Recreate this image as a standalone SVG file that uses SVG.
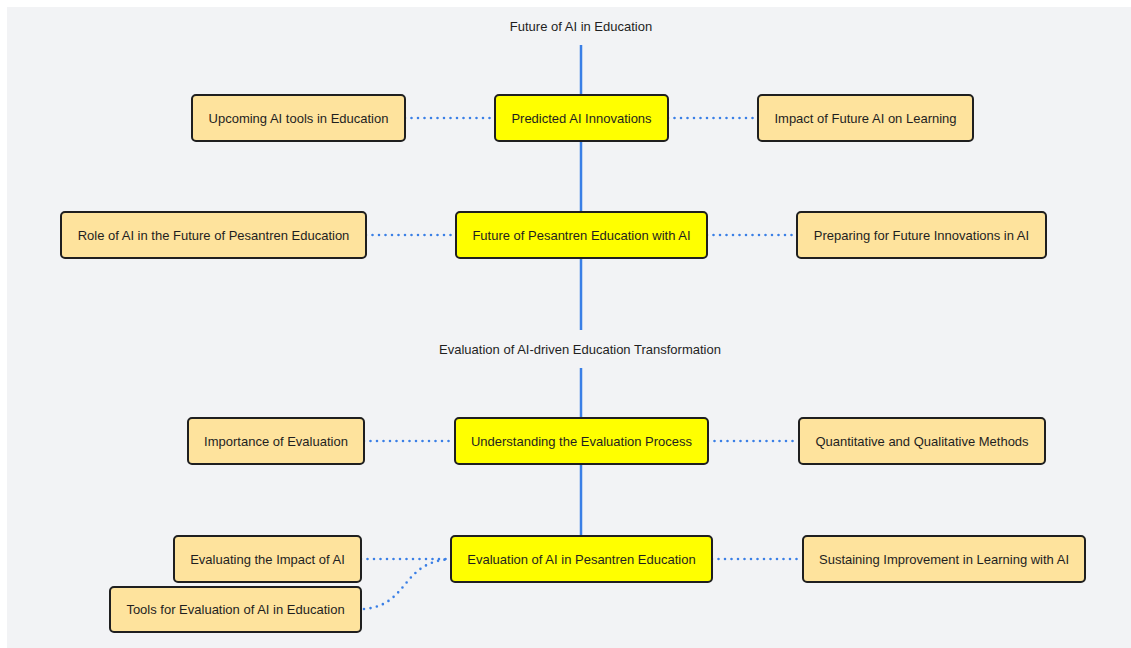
<svg xmlns="http://www.w3.org/2000/svg" width="1131" height="648" viewBox="0 0 1131 648">
<style>
.bg{fill:#f2f3f5}
.n rect{stroke:#1f1f1f;stroke-width:2}
.main rect{fill:#ffff00}
.sub rect{fill:#fee39d}
text{font-family:"Liberation Sans",Arial,sans-serif;font-size:13px;fill:#1f1f1f;text-anchor:middle;dominant-baseline:central}
.spine{stroke:#3a7fe6;stroke-width:2.5;fill:none}
.dot{stroke:#3a7fe6;stroke-width:2.6;fill:none;stroke-linecap:round;stroke-dasharray:0 6.5}
</style>
<rect x="0" y="0" width="1131" height="648" fill="#ffffff"/>
<rect class="bg" x="7" y="7" width="1124" height="641"/>
<g id="connectors">
<line class="spine" x1="581" y1="45" x2="581" y2="330"/>
<line class="spine" x1="581" y1="368" x2="581" y2="536"/>
<line class="dot" x1="405" y1="118" x2="495" y2="118"/>
<line class="dot" x1="668" y1="118" x2="758" y2="118"/>
<line class="dot" x1="366" y1="235" x2="456" y2="235"/>
<line class="dot" x1="707" y1="235" x2="797" y2="235"/>
<line class="dot" x1="364" y1="441" x2="455" y2="441"/>
<line class="dot" x1="708" y1="441" x2="799" y2="441"/>
<line class="dot" x1="361" y1="559" x2="451" y2="559"/>
<line class="dot" x1="712" y1="559" x2="803" y2="559"/>
<path class="dot" d="M364 609 C 410 605, 400 562, 451 559"/>
</g>
<g id="title-future"><text x="581" y="26">Future of AI in Education</text></g>
<g id="title-eval"><text x="580" y="349">Evaluation of AI-driven Education Transformation</text></g>
<g id="n-predicted" class="n main"><rect x="495" y="95" width="173" height="46" rx="4"/><text x="581.5" y="118">Predicted AI Innovations</text></g>
<g id="n-upcoming" class="n sub"><rect x="192" y="95" width="213" height="46" rx="4"/><text x="298.5" y="118">Upcoming AI tools in Education</text></g>
<g id="n-impact-future" class="n sub"><rect x="758" y="95" width="215" height="46" rx="4"/><text x="865.5" y="118">Impact of Future AI on Learning</text></g>
<g id="n-future-pesantren" class="n main"><rect x="456" y="212" width="251" height="46" rx="4"/><text x="581.5" y="235">Future of Pesantren Education with AI</text></g>
<g id="n-role" class="n sub"><rect x="61" y="212" width="305" height="46" rx="4"/><text x="213.5" y="235">Role of AI in the Future of Pesantren Education</text></g>
<g id="n-preparing" class="n sub"><rect x="797" y="212" width="249" height="46" rx="4"/><text x="921.5" y="235">Preparing for Future Innovations in AI</text></g>
<g id="n-understanding" class="n main"><rect x="455" y="418" width="253" height="46" rx="4"/><text x="581.5" y="441">Understanding the Evaluation Process</text></g>
<g id="n-importance" class="n sub"><rect x="188" y="418" width="176" height="46" rx="4"/><text x="276" y="441">Importance of Evaluation</text></g>
<g id="n-quant" class="n sub"><rect x="799" y="418" width="246" height="46" rx="4"/><text x="922" y="441">Quantitative and Qualitative Methods</text></g>
<g id="n-eval-pesantren" class="n main"><rect x="451" y="536" width="261" height="46" rx="4"/><text x="581.5" y="559">Evaluation of AI in Pesantren Education</text></g>
<g id="n-eval-impact" class="n sub"><rect x="174" y="536" width="187" height="46" rx="4"/><text x="267.5" y="559">Evaluating the Impact of AI</text></g>
<g id="n-tools" class="n sub"><rect x="110" y="587" width="251" height="45" rx="4"/><text x="235.5" y="609.5">Tools for Evaluation of AI in Education</text></g>
<g id="n-sustaining" class="n sub"><rect x="803" y="536" width="282" height="46" rx="4"/><text x="944" y="559">Sustaining Improvement in Learning with AI</text></g>
</svg>
